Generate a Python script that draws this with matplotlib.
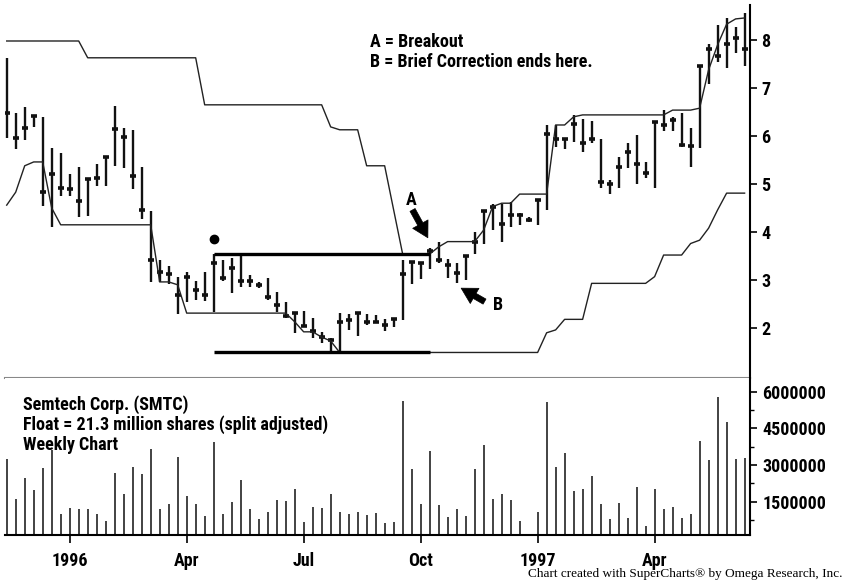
import matplotlib
matplotlib.use("Agg")
import matplotlib.pyplot as plt
import numpy as np

# ------ weekly data, SMTC (index 0 = 7 weeks before 1996) ------
high = [7.62, 6.49, 6.60, 6.44, 6.40, 5.76, 5.65, 5.21, 5.36, 5.10,
        5.41, 5.57, 6.63, 6.16, 6.13, 5.36, 4.44, 3.42, 3.30, 3.07,
        3.16, 2.97, 3.16, 3.55, 3.42, 3.46, 3.49, 3.10, 2.96, 3.05,
        2.74, 2.55, 2.34, 2.36, 2.21, 1.92, 1.79, 2.31, 2.29, 2.32,
        2.29, 2.27, 2.18, 2.20, 3.42, 3.40, 3.37, 3.66, 3.80, 3.44,
        3.36, 3.52, 4.01, 4.44, 4.58, 4.59, 4.63, 4.40, 4.32, 4.68,
        6.23, 6.23, 5.95, 6.44, 6.35, 6.32, 5.93, 5.08, 5.56, 5.85,
        6.02, 5.46, 6.31, 6.54, 6.40, 6.49, 6.16, 7.46, 7.92, 8.31,
        8.45, 8.28, 8.56]
low = [5.95, 5.72, 5.92, 6.19, 4.55, 4.11, 4.74, 4.74, 4.32, 4.33,
       4.96, 4.96, 5.38, 5.33, 4.90, 4.27, 2.96, 2.96, 2.92, 2.29,
       2.54, 2.58, 2.57, 2.34, 2.98, 2.72, 2.86, 2.86, 2.83, 2.58,
       2.34, 2.20, 1.90, 2.03, 1.80, 1.69, 1.49, 1.51, 1.96, 1.84,
       2.06, 2.10, 1.94, 2.03, 2.17, 2.92, 3.02, 3.22, 3.35, 3.04,
       2.94, 3.00, 3.54, 3.76, 4.04, 3.80, 4.11, 4.15, 4.21, 4.15,
       4.46, 5.78, 5.72, 5.88, 5.67, 5.85, 4.91, 4.79, 4.91, 5.34,
       5.01, 5.12, 4.91, 6.10, 6.10, 5.78, 5.35, 5.76, 7.08, 7.54,
       7.41, 7.72, 7.46]
close = [6.49, 5.96, 6.17, 6.42, 4.84, 5.20, 4.92, 4.90, 4.65, 5.10,
         5.13, 5.57, 6.15, 5.99, 5.17, 4.45, 3.42, 3.17, 3.13, 2.69,
         3.06, 2.79, 2.69, 3.36, 3.05, 3.26, 2.98, 2.98, 2.90, 2.65,
         2.48, 2.24, 2.31, 2.05, 1.94, 1.81, 1.75, 2.12, 2.17, 2.31,
         2.13, 2.13, 2.06, 2.18, 3.13, 3.38, 3.35, 3.60, 3.42, 3.31,
         3.15, 3.51, 3.79, 4.44, 4.53, 4.16, 4.35, 4.35, 4.24, 4.67,
         6.04, 5.93, 5.93, 6.26, 5.85, 5.93, 5.04, 5.01, 5.36, 5.67,
         5.42, 5.22, 6.30, 6.23, 6.33, 5.81, 5.80, 7.46, 7.81, 7.67,
         7.91, 8.04, 7.81]
# volume in millions of shares
volume = [3.23, 1.61, 2.48, 1.98, 2.88, 3.61, 1.00, 1.25, 1.20, 1.20,
          1.00, 0.70, 2.69, 1.80, 2.92, 2.62, 3.65, 1.20, 1.42, 3.34,
          1.75, 1.42, 0.92, 3.94, 1.00, 1.50, 2.37, 1.21, 0.78, 1.09,
          1.57, 1.52, 2.02, 0.68, 1.28, 1.23, 1.81, 1.08, 1.00, 1.08,
          0.96, 1.06, 0.64, 0.68, 5.62, 2.84, 1.42, 3.57, 1.38, 0.87,
          1.20, 0.92, 2.84, 3.84, 1.61, 1.80, 1.56, 0.70, 0.20, 1.08,
          5.59, 2.92, 3.48, 1.95, 2.02, 2.55, 1.41, 0.78, 1.45, 0.83,
          2.11, 0.51, 2.02, 1.20, 1.28, 0.83, 1.01, 3.98, 3.22, 5.79,
          4.76, 3.25, 3.29]
# channel lines drawn by SuperCharts
upper_band = [7.98] * 9 + [7.63] * 13 + [6.65] * 14 + [6.19, 6.13, 6.13, 6.13] \
    + [5.38] * 3 + [4.46] + [3.54] * 4 + [3.69] + [3.80] * 4 \
    + [4.04, 4.53, 4.60, 4.60, 4.79, 4.79, 4.79, 4.79, 6.23, 6.23, 6.40] \
    + [6.44] * 10 + [6.54] * 3 + [6.58, 7.38, 7.90, 8.33, 8.44, 8.46]
lower_band = [4.56, 4.83, 5.38, 5.46, 5.46, 4.50] + [4.15] * 11 \
    + [2.96, 2.96, 2.90] + [2.31] * 12 + [2.13, 1.92, 1.92, 1.81, 1.73] \
    + [1.49] * 23 + [1.90, 1.96, 2.18, 2.18, 2.18] + [2.93] * 7 \
    + [3.07, 3.52, 3.52, 3.52, 3.76, 3.83, 4.08, 4.46, 4.81, 4.81, 4.81]

# base (box) drawn by hand: from the high of week 23 to the breakout week
box_start, box_end = 23, 47
box_top, box_bottom = 3.54, 1.49
dot_week, dot_price = 23, 3.85

tick_pos = [7, 20, 33, 46, 59, 72]
tick_labels = ['1996', 'Apr', 'Jul', 'Oct', '1997', 'Apr']

FONT = ['Roboto Condensed', 'Liberation Sans']
W, H = 844, 582


def fx(px):
    return px / W


def fy(py):
    return 1 - py / H


def arrow(ax, tip, tail):
    ax.annotate('', xy=tip, xytext=tail,
                arrowprops=dict(arrowstyle='simple,head_length=0.8,head_width=0.9,tail_width=0.3',
                                fc='black', ec='black', lw=0.5, mutation_scale=14,
                                shrinkA=0, shrinkB=0))


def main():
    weeks = np.arange(len(close))
    fig = plt.figure(figsize=(8.44, 5.82), dpi=100)
    ax = fig.add_axes([fx(5), fy(378), fx(745), (378 - 5) / H])
    axv = fig.add_axes([fx(5), fy(535), fx(745), (535 - 378) / H], sharex=ax)

    # price bars
    ax.vlines(weeks, low, high, color='#111111', lw=1.7)
    ax.plot(weeks, close, ls='none', marker='_', ms=5, mew=2.6, color='#111111')
    ax.plot(weeks, upper_band, color='#222222', lw=1.0)
    ax.plot(weeks, lower_band, color='#222222', lw=1.0)
    ax.hlines([box_top, box_bottom], box_start, box_end, color='black', lw=2.4)
    ax.plot(dot_week, dot_price, 'o', color='black', ms=6)

    # arrows
    arrow(ax, (46.8, 3.88), (45.1, 4.46))
    ax.text(45.0, 4.67, 'A', fontsize=13, fontweight='bold', family=FONT, ha='center', va='center')
    arrow(ax, (50.5, 2.83), (53.1, 2.55))
    ax.text(54.6, 2.48, 'B', fontsize=13, fontweight='bold', family=FONT, ha='center', va='center')

    ax.set_xlim(-0.19, 82.6)
    ax.set_ylim(0.958, 8.73)
    ax.yaxis.tick_right()
    ax.set_yticks([2, 3, 4, 5, 6, 7, 8])
    ax.tick_params(axis='y', length=5, width=1.2, pad=3, labelsize=13)
    ax.tick_params(axis='x', bottom=False, labelbottom=False)
    for lab in ax.get_yticklabels():
        lab.set_fontweight('bold')
        lab.set_family(FONT)
    for s in ['left', 'top']:
        ax.spines[s].set_visible(False)
    ax.spines['bottom'].set_color('#888888')
    ax.spines['bottom'].set_linewidth(1.5)
    ax.spines['right'].set_linewidth(1.5)

    # volume
    axv.vlines(weeks, 0, np.array(volume) * 1e6, color='#222222', lw=1.2)
    axv.set_ylim(0.14e6, 6.56e6)
    axv.yaxis.tick_right()
    axv.set_yticks([1500000, 3000000, 4500000, 6000000])
    axv.set_yticklabels(['1500000', '3000000', '4500000', '6000000'])
    axv.set_yticks([750000, 2250000, 3750000, 5250000], minor=True)
    axv.tick_params(axis='y', which='major', length=5, width=1.2, pad=4, labelsize=13)
    axv.tick_params(axis='y', which='minor', length=3, width=1.0)
    axv.set_xticks(tick_pos)
    axv.set_xticklabels(tick_labels)
    axv.tick_params(axis='x', length=6, width=1.2, pad=6, labelsize=13)
    for lab in axv.get_yticklabels() + axv.get_xticklabels():
        lab.set_fontweight('bold')
        lab.set_family(FONT)
    for s in ['left', 'top']:
        axv.spines[s].set_visible(False)
    axv.spines['bottom'].set_linewidth(1.5)
    axv.spines['right'].set_linewidth(1.5)

    # text
    fig.text(fx(370), fy(42), 'A = Breakout', fontsize=13, fontweight='bold', family=FONT, va='center')
    fig.text(fx(370), fy(62), 'B = Brief Correction ends here.', fontsize=13, fontweight='bold',
             family=FONT, va='center')
    for k, line in enumerate(['Semtech Corp. (SMTC)',
                              'Float = 21.3 million shares (split adjusted)',
                              'Weekly Chart']):
        fig.text(fx(23), fy(405 + 20 * k), line, fontsize=13, fontweight='bold', family=FONT,
                 va='center')
    fig.text(fx(843), fy(574), 'Chart created with SuperCharts\u00ae by Omega Research, Inc.',
             fontsize=9.5, family=['Liberation Serif', 'DejaVu Serif'], ha='right', va='center')

    fig.savefig('out.png', dpi=100)


if __name__ == "__main__":
    main()
